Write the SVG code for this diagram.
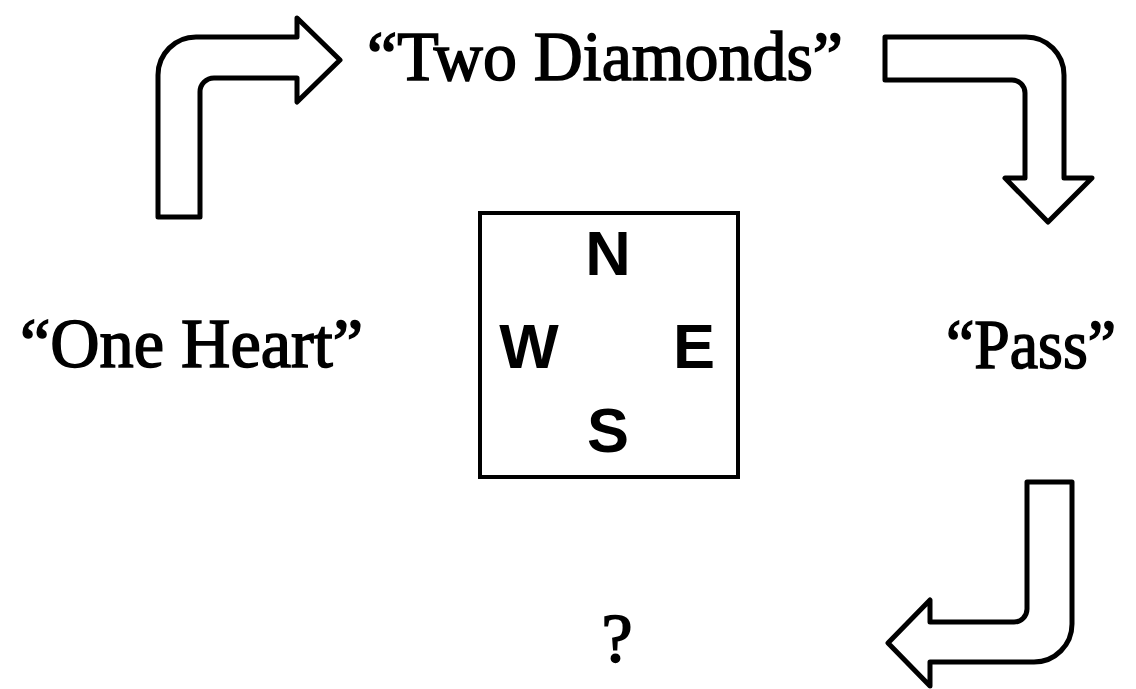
<svg xmlns="http://www.w3.org/2000/svg" width="1136" height="689" viewBox="0 0 1136 689">
<style>
.arrow{fill:#fff;stroke:#000;stroke-width:5;stroke-linejoin:round}
.call{font-family:"Liberation Serif","Times New Roman",serif;font-size:70px;fill:#000;stroke:#000;stroke-width:1.6}
.dir{font-family:"Liberation Sans",Arial,sans-serif;font-weight:bold;font-size:63px;fill:#000;text-anchor:middle}
</style>
<rect width="1136" height="689" fill="#fff"/>
<g id="connectors">
<path class="arrow" d="M158,217 L158,75 A38,38 0 0 1 196,37 L297,37 L297,18 L340,60 L297,102 L297,78 L214,78 A14,14 0 0 0 200,92 L200,217 Z"/>
<path class="arrow" d="M885,37 L1026,37 A38,38 0 0 1 1064,75 L1064,178 L1092,178 L1048,222 L1005,178 L1025,178 L1025,93 A13,13 0 0 0 1012,80 L885,80 Z"/>
<path class="arrow" d="M1027,482 L1072,482 L1072,624 A38,38 0 0 1 1034,662 L930,662 L930,686 L888,643 L930,600 L930,622 L1014,622 A13,13 0 0 0 1027,609 Z"/>
</g>
<g id="north-call"><text class="call" x="367" y="80" textLength="476" lengthAdjust="spacingAndGlyphs">“Two Diamonds”</text></g>
<g id="west-call"><text class="call" x="20" y="367" textLength="343" lengthAdjust="spacingAndGlyphs">“One Heart”</text></g>
<g id="east-call"><text class="call" x="946" y="368" font-size="66" textLength="170" lengthAdjust="spacingAndGlyphs">“Pass”</text></g>
<g id="south-call"><text class="call" x="617" y="662" text-anchor="middle">?</text></g>
<g id="compass">
<rect x="480" y="213" width="258" height="264" fill="none" stroke="#000" stroke-width="4"/>
<text class="dir" x="608" y="275">N</text>
<text class="dir" x="529" y="368">W</text>
<text class="dir" x="694" y="368">E</text>
<text class="dir" x="608" y="452">S</text>
</g>
</svg>
